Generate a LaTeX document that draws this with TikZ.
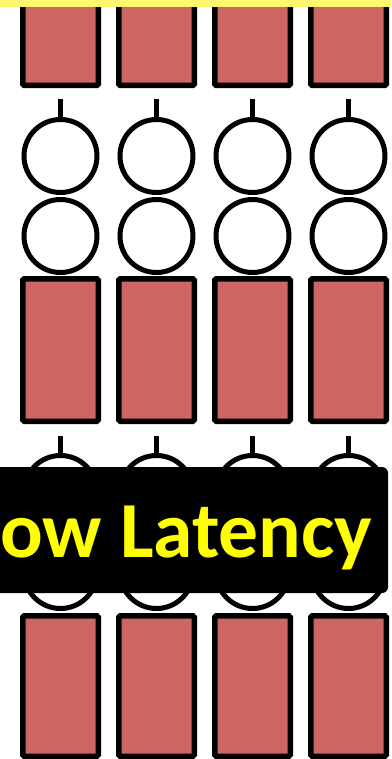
\documentclass[tikz,border=0pt]{standalone}
\usepackage{fontspec}
\usepackage{tikz}
\usetikzlibrary{positioning}
\newfontfamily\bannerfont{Carlito}
\definecolor{CellRed}{RGB}{205,102,96}
\definecolor{BandYellow}{RGB}{255,247,112}
\definecolor{TextYellow}{RGB}{255,255,0}

\begin{document}
\begin{tikzpicture}[
  x=1pt, y=-1pt,
  cell/.style={draw=black, fill=CellRed, line width=5.5pt, rounded corners=1.5pt, minimum width=75.5pt, inner sep=0pt, outer sep=0pt},
  ring/.style={circle, draw=black, fill=white, line width=5pt, minimum size=73pt, inner sep=0pt, outer sep=0pt},
  stem/.style={draw=black, line width=4.5pt},
  banner/.style={fill=black, rounded corners=6pt},
  caption/.style={text=TextYellow, inner sep=0pt, anchor=base west, font=\bannerfont\bfseries\fontsize{79.5}{80}\selectfont}
]
\clip (0,0) rectangle (391,759);
\foreach \c [count=\i] in {60.5,156.5,252.5,348.5} {
  % upper stage
  \node[cell, minimum height=149.5pt] (top\i) at (\c,10.75) {};
  \coordinate (tipA\i) at (\c,99);
  \node[ring] (upA\i) at (\c,156) {};
  \node[ring] (upB\i) at (\c,236) {};
  \draw[stem] (tipA\i) -- (upA\i.north);
  \node[cell, minimum height=142.5pt] (mid\i) at (\c,350) {};
  % lower stage
  \coordinate (tipB\i) at (\c,436);
  \node[ring] (lowA\i) at (\c,492) {};
  \node[ring] (lowB\i) at (\c,572) {};
  \draw[stem] (tipB\i) -- (lowA\i.north);
  \node[cell, minimum height=140.5pt] (bot\i) at (\c,686) {};
}
\fill[BandYellow] (0,0) rectangle (391,7);
\path[banner] (-10,467) rectangle (388,593);
\node[caption] (latency) at (0,557) {ow Latency};
\end{tikzpicture}
\end{document}
